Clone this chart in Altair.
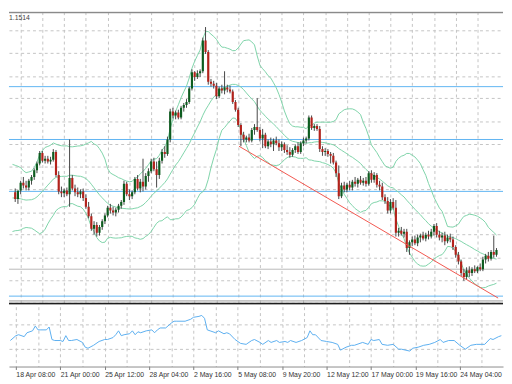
import json
import numpy as np
import pandas as pd
import altair as alt

# ---------------- data (prices in pips: price = value / 10000) ----------------
WARM_CLOSE = [11472, 11480, 11485, 11478, 11470, 11474, 11465, 11455, 11445, 11438,
              11432, 11428, 11435, 11440, 11444, 11450, 11454, 11460, 11462]

OPEN = [11462, 11455, 11464, 11472, 11469, 11467, 11474, 11478, 11485, 11492,
        11503, 11495, 11497, 11494, 11496, 11504, 11480, 11463, 11461, 11464,
        11460, 11477, 11466, 11462, 11460, 11463, 11456, 11447, 11437, 11424,
        11428, 11420, 11426, 11432, 11438, 11446, 11443, 11441, 11444, 11448,
        11452, 11471, 11460, 11458, 11462, 11476, 11466, 11473, 11468, 11479,
        11484, 11494, 11486, 11480, 11495, 11504, 11502, 11517, 11546, 11542,
        11545, 11540, 11550, 11553, 11556, 11570, 11587, 11582, 11586, 11588,
        11620, 11608, 11577, 11575, 11573, 11562, 11570, 11568, 11571, 11569,
        11567, 11556, 11548, 11532, 11522, 11517, 11519, 11516, 11527, 11530,
        11527, 11518, 11522, 11510, 11515, 11512, 11516, 11513, 11509, 11512,
        11506, 11504, 11501, 11506, 11510, 11504, 11513, 11516, 11518, 11540,
        11529, 11531, 11528, 11507, 11504, 11505, 11502, 11500, 11493, 11482,
        11458, 11469, 11465, 11470, 11467, 11473, 11471, 11475, 11472, 11474,
        11471, 11482, 11475, 11480, 11470, 11468, 11457, 11453, 11443, 11452,
        11446, 11420, 11422, 11419, 11421, 11404, 11410, 11413, 11409, 11415,
        11417, 11414, 11418, 11416, 11421, 11427, 11418, 11415, 11417, 11411,
        11415, 11413, 11405, 11397, 11390, 11378, 11374, 11381, 11378, 11382,
        11380, 11384, 11382, 11392, 11396, 11393, 11400, 11397]

HIGH = [11466, 11462, 11474, 11478, 11474, 11476, 11480, 11487, 11494, 11505,
        11505, 11500, 11500, 11499, 11507, 11506, 11484, 11468, 11466, 11467,
        11517, 11480, 11470, 11467, 11465, 11466, 11460, 11452, 11440, 11432,
        11431, 11428, 11434, 11440, 11448, 11450, 11447, 11446, 11450, 11454,
        11474, 11473, 11465, 11464, 11478, 11480, 11476, 11497, 11482, 11487,
        11497, 11498, 11494, 11498, 11507, 11510, 11520, 11549, 11550, 11547,
        11548, 11552, 11555, 11559, 11572, 11590, 11588, 11589, 11590, 11623,
        11634, 11610, 11580, 11578, 11576, 11572, 11574, 11588, 11574, 11573,
        11569, 11558, 11550, 11534, 11525, 11521, 11523, 11529, 11533, 11560,
        11530, 11528, 11524, 11517, 11519, 11518, 11520, 11517, 11515, 11514,
        11511, 11509, 11508, 11512, 11514, 11515, 11519, 11520, 11542, 11542,
        11533, 11533, 11531, 11510, 11508, 11507, 11504, 11503, 11495, 11490,
        11472, 11473, 11472, 11474, 11475, 11478, 11477, 11479, 11477, 11478,
        11484, 11485, 11483, 11482, 11474, 11472, 11460, 11457, 11455, 11456,
        11454, 11425, 11426, 11424, 11424, 11412, 11416, 11417, 11418, 11419,
        11421, 11420, 11422, 11424, 11429, 11430, 11422, 11420, 11421, 11418,
        11419, 11416, 11407, 11400, 11392, 11382, 11384, 11385, 11384, 11386,
        11385, 11388, 11395, 11398, 11400, 11402, 11417, 11404]

LOW = [11452, 11450, 11460, 11466, 11464, 11464, 11470, 11475, 11482, 11490,
       11493, 11492, 11492, 11491, 11494, 11478, 11460, 11457, 11457, 11458,
       11447, 11464, 11458, 11457, 11456, 11453, 11445, 11435, 11422, 11418,
       11416, 11417, 11423, 11429, 11436, 11440, 11438, 11437, 11441, 11445,
       11449, 11458, 11454, 11455, 11460, 11464, 11462, 11463, 11465, 11473,
       11482, 11484, 11467, 11476, 11492, 11498, 11500, 11514, 11539, 11538,
       11538, 11538, 11546, 11550, 11554, 11568, 11578, 11580, 11582, 11586,
       11606, 11574, 11572, 11570, 11559, 11560, 11565, 11564, 11566, 11565,
       11554, 11546, 11530, 11510, 11514, 11514, 11514, 11514, 11522, 11525,
       11515, 11508, 11508, 11507, 11509, 11505, 11511, 11505, 11505, 11503,
       11501, 11498, 11499, 11503, 11502, 11502, 11510, 11513, 11516, 11527,
       11526, 11526, 11504, 11500, 11500, 11499, 11492, 11491, 11478, 11455,
       11456, 11462, 11462, 11464, 11464, 11468, 11467, 11470, 11469, 11468,
       11469, 11472, 11472, 11467, 11464, 11454, 11450, 11440, 11440, 11444,
       11416, 11416, 11417, 11415, 11400, 11397, 11406, 11407, 11406, 11410,
       11412, 11411, 11413, 11414, 11417, 11415, 11412, 11410, 11407, 11409,
       11410, 11402, 11394, 11387, 11375, 11370, 11371, 11374, 11375, 11378,
       11378, 11380, 11380, 11388, 11390, 11391, 11394, 11395]

CLOSE = [11455, 11464, 11472, 11469, 11467, 11474, 11478, 11485, 11492, 11503,
         11495, 11497, 11494, 11496, 11504, 11480, 11463, 11461, 11464, 11460,
         11477, 11466, 11462, 11460, 11463, 11456, 11447, 11437, 11424, 11428,
         11420, 11426, 11432, 11438, 11446, 11443, 11441, 11444, 11448, 11452,
         11471, 11460, 11458, 11462, 11476, 11466, 11473, 11468, 11479, 11484,
         11494, 11486, 11480, 11495, 11504, 11502, 11517, 11546, 11542, 11545,
         11540, 11550, 11553, 11556, 11570, 11587, 11582, 11586, 11588, 11620,
         11608, 11577, 11575, 11573, 11562, 11570, 11568, 11571, 11569, 11567,
         11556, 11548, 11532, 11522, 11517, 11519, 11516, 11527, 11530, 11527,
         11518, 11522, 11510, 11515, 11512, 11516, 11513, 11509, 11512, 11506,
         11504, 11501, 11506, 11510, 11504, 11513, 11516, 11518, 11540, 11529,
         11531, 11528, 11507, 11504, 11505, 11502, 11500, 11493, 11482, 11458,
         11469, 11465, 11470, 11467, 11473, 11471, 11475, 11472, 11474, 11471,
         11482, 11475, 11480, 11470, 11468, 11457, 11453, 11443, 11452, 11446,
         11420, 11422, 11419, 11421, 11404, 11410, 11413, 11409, 11415, 11417,
         11414, 11418, 11416, 11421, 11427, 11418, 11415, 11417, 11411, 11415,
         11413, 11405, 11397, 11390, 11378, 11374, 11381, 11378, 11382, 11380,
         11384, 11382, 11392, 11396, 11393, 11400, 11397, 11402]

# oscillator (lower pane): (bar index, value)
RSI_POINTS = [(0, 43.5), (2, 51.6), (3, 53.2), (5, 50.0), (6, 56.5), (8, 59.7), (9, 67.7),
              (10, 61.3), (11, 61.3), (13, 61.3), (14, 66.1), (15, 45.2), (16, 43.5), (18, 43.5),
              (19, 41.9), (20, 51.6), (21, 43.5), (22, 43.5), (24, 45.2), (26, 40.3), (27, 32.3),
              (28, 30.6), (30, 35.5), (32, 41.9), (34, 45.2), (35, 45.2), (37, 48.4), (38, 53.2),
              (39, 59.7), (40, 51.6), (41, 53.2), (43, 54.8), (44, 59.7), (45, 53.2), (46, 58.1),
              (47, 56.5), (49, 59.7), (51, 61.3), (52, 56.5), (53, 61.3), (54, 64.5), (56, 64.5),
              (58, 72.6), (59, 75.8), (60, 75.8), (63, 75.8), (65, 79.0), (66, 82.3), (68, 83.9),
              (69, 85.5), (70, 80.6), (71, 61.3), (72, 59.7), (74, 56.5), (75, 59.7), (77, 54.8),
              (78, 56.5), (79, 54.8), (81, 45.2), (83, 38.7), (85, 37.1), (87, 43.5), (88, 45.2),
              (90, 40.3), (91, 37.1), (93, 43.5), (94, 40.3), (96, 43.5), (97, 40.3), (99, 41.9),
              (100, 40.3), (101, 43.5), (103, 40.3), (105, 43.5), (107, 48.4), (108, 59.7),
              (109, 53.2), (110, 53.2), (112, 43.5), (114, 41.9), (116, 40.3), (118, 37.1),
              (119, 27.4), (121, 32.3), (123, 35.5), (124, 35.5), (127, 40.3), (129, 37.1),
              (130, 45.2), (131, 43.5), (133, 45.2), (134, 37.1), (136, 35.5), (138, 37.1),
              (140, 29.0), (141, 29.0), (144, 25.8), (145, 30.6), (147, 32.3), (149, 35.5),
              (151, 37.1), (153, 40.3), (155, 45.2), (156, 40.3), (158, 43.5), (160, 43.5),
              (162, 35.5), (164, 29.0), (166, 35.5), (168, 37.1), (170, 37.1), (171, 37.1),
              (173, 46.8), (174, 45.2), (176, 50.0), (177, 51.6)]

BLUE_LEVELS = [1.1572, 1.1517, 1.1463, 1.1354]
GRAY_LEVELS = [1.1382]
TREND_BAR = [82.3, 177.6]
TREND_PRICE = [1.1510, 1.1352]
GRID_PRICE = [1.1631, 1.1607, 1.1583, 1.1560, 1.1536, 1.1512, 1.1489, 1.1465,
              1.1441, 1.1418, 1.1394, 1.1370, 1.1347]
GRID_BAR = [2, 10, 18, 26, 34, 42, 50, 58, 66, 74, 82, 90, 98, 106, 114, 122,
            130, 138, 146, 154, 162, 170]
LABEL_BAR = [2, 18, 34, 50, 66, 82, 98, 114, 130, 146, 162]
LABEL_TEXT = ["18 Apr 08:00", "21 Apr 00:00", "25 Apr 12:00", "28 Apr 04:00",
              "2 May 16:00", "5 May 08:00", "9 May 20:00", "12 May 12:00",
              "17 May 00:00", "19 May 16:00", "24 May 04:00"]
RSI_GRID = [30, 70]
HEADER_TEXT = "1.1514"

# ---------------- tables ----------------
n = len(CLOSE)
candles = pd.DataFrame({
    "i": np.arange(n),
    "open": np.array(OPEN) / 10000,
    "high": np.array(HIGH) / 10000,
    "low": np.array(LOW) / 10000,
    "close": np.array(CLOSE) / 10000,
})
candles["dir"] = np.where(candles["close"] >= candles["open"], "up", "down")

bands = pd.DataFrame({
    "i": np.arange(-len(WARM_CLOSE), n),
    "close": np.array(WARM_CLOSE + CLOSE) / 10000,
})
rsi_df = pd.DataFrame(RSI_POINTS, columns=["i", "v"])
trend_df = pd.DataFrame({"i": TREND_BAR, "p": TREND_PRICE})
blue_df = pd.DataFrame({"p": BLUE_LEVELS})
gray_df = pd.DataFrame({"p": GRAY_LEVELS})
text_df = pd.DataFrame({"i": [5.4], "p": [1.1643], "t": [HEADER_TEXT]})

# ---------------- styling ----------------
GRID_COLOR = "#c4c4c4"
W = 504
H_MAIN = 299
H_BOT = 61

xs = alt.Scale(domain=[-0.487, 177.6], nice=False, zero=False)
ys = alt.Scale(domain=[1.1345, 1.1650], nice=False, zero=False)

XAXIS_MAIN = alt.Axis(values=GRID_BAR, grid=True, gridColor=GRID_COLOR, gridDash=[3, 3],
                      labels=False, ticks=False, domain=False, title=None)
YAXIS_MAIN = alt.Axis(values=GRID_PRICE, grid=True, gridColor=GRID_COLOR, gridDash=[3, 3],
                      labels=False, ticks=False, domain=False, title=None)


def xm(field="i"):
    return alt.X(f"{field}:Q", scale=xs, axis=XAXIS_MAIN)


def ym(field):
    return alt.Y(f"{field}:Q", scale=ys, axis=YAXIS_MAIN)


band_base = (
    alt.Chart(bands)
    .transform_window(mid="mean(close)", sd="stdev(close)", frame=[-19, 0],
                      sort=[alt.SortField("i")])
    .transform_calculate(up="datum.mid + 2*datum.sd", lo="datum.mid - 2*datum.sd")
    .transform_fold(["up", "mid", "lo"], as_=["band", "val"])
    .transform_filter("datum.i >= -1")
)
band_lines = band_base.mark_line(color="#7dd3a8", strokeWidth=1, clip=True).encode(
    x=xm(), y=ym("val"), detail="band:N"
)

blue_lines = alt.Chart(blue_df).mark_rule(color="#5fb4f2", strokeWidth=1).encode(y=ym("p"))
gray_lines = alt.Chart(gray_df).mark_rule(color="#b8b8b8", strokeWidth=1).encode(y=ym("p"))

wicks = alt.Chart(candles).mark_rule(color="#454545", strokeWidth=1, clip=True).encode(
    x=xm(), y=ym("low"), y2="high:Q"
)
bodies = alt.Chart(candles).mark_bar(size=2.2, clip=True).encode(
    x=xm(), y=ym("open"), y2="close:Q",
    color=alt.Color("dir:N", scale=alt.Scale(domain=["up", "down"],
                                             range=["#0d5c1f", "#b3221b"]), legend=None),
)
trend = alt.Chart(trend_df).mark_line(color="#f2554d", strokeWidth=1, clip=True).encode(
    x=xm(), y=ym("p")
)
top_border = alt.Chart(pd.DataFrame({"p": [1.16495]})).mark_rule(
    color="#8a8a8a", strokeWidth=2, clip=True).encode(y=ym("p"))
sep_gray = alt.Chart(pd.DataFrame({"p": [1.1349]})).mark_rule(
    color="#9a9a9a", strokeWidth=1, clip=True).encode(y=ym("p"))
sep_black = alt.Chart(pd.DataFrame({"p": [1.13462]})).mark_rule(
    color="#1e1e1e", strokeWidth=2, clip=True).encode(y=ym("p"))
header = alt.Chart(text_df).mark_text(align="right", baseline="middle", fontSize=7,
                                      font="Liberation Sans", color="#444444",
                                      clip=True).encode(
    x=xm(), y=ym("p"), text="t:N"
)

main = alt.layer(
    blue_lines, gray_lines, band_lines, wicks, bodies, trend,
    top_border, sep_gray, sep_black, header
).properties(width=W, height=H_MAIN)

keys = json.dumps(LABEL_BAR)
texts = json.dumps(LABEL_TEXT)
label_expr = f"indexof({keys}, datum.value) >= 0 ? {texts}[indexof({keys}, datum.value)] : ''"

XAXIS_BOT = alt.Axis(
    values=GRID_BAR, grid=True, gridColor=GRID_COLOR, gridDash=[3, 3],
    labelExpr=label_expr, labelAlign="left", labelBaseline="top",
    labelFont="Liberation Sans Narrow, Liberation Sans, sans-serif",
    labelFontSize=7, labelColor="#333333", labelPadding=1, labelOverlap=False,
    labelFlush=False, tickSize=3, tickColor="#777777",
    tickOpacity={"condition": {"test": f"indexof({keys}, datum.value) >= 0", "value": 1},
                 "value": 0},
    domainColor="#8a8a8a", title=None,
)
YAXIS_BOT = alt.Axis(values=RSI_GRID, grid=True, gridColor=GRID_COLOR, gridDash=[3, 3],
                     labels=False, ticks=False, domain=False, title=None)

bottom = alt.Chart(rsi_df).mark_line(color="#5aaef0", strokeWidth=1, clip=True).encode(
    x=alt.X("i:Q", scale=xs, axis=XAXIS_BOT),
    y=alt.Y("v:Q", scale=alt.Scale(domain=[0, 100], nice=False), axis=YAXIS_BOT),
).properties(width=W, height=H_BOT)

chart = (
    alt.vconcat(main, bottom, spacing=2)
    .properties(padding=0, background="white")
    .configure_view(stroke=None)
)

chart.save("out.html", embed_options={"renderer": "svg", "actions": False})
